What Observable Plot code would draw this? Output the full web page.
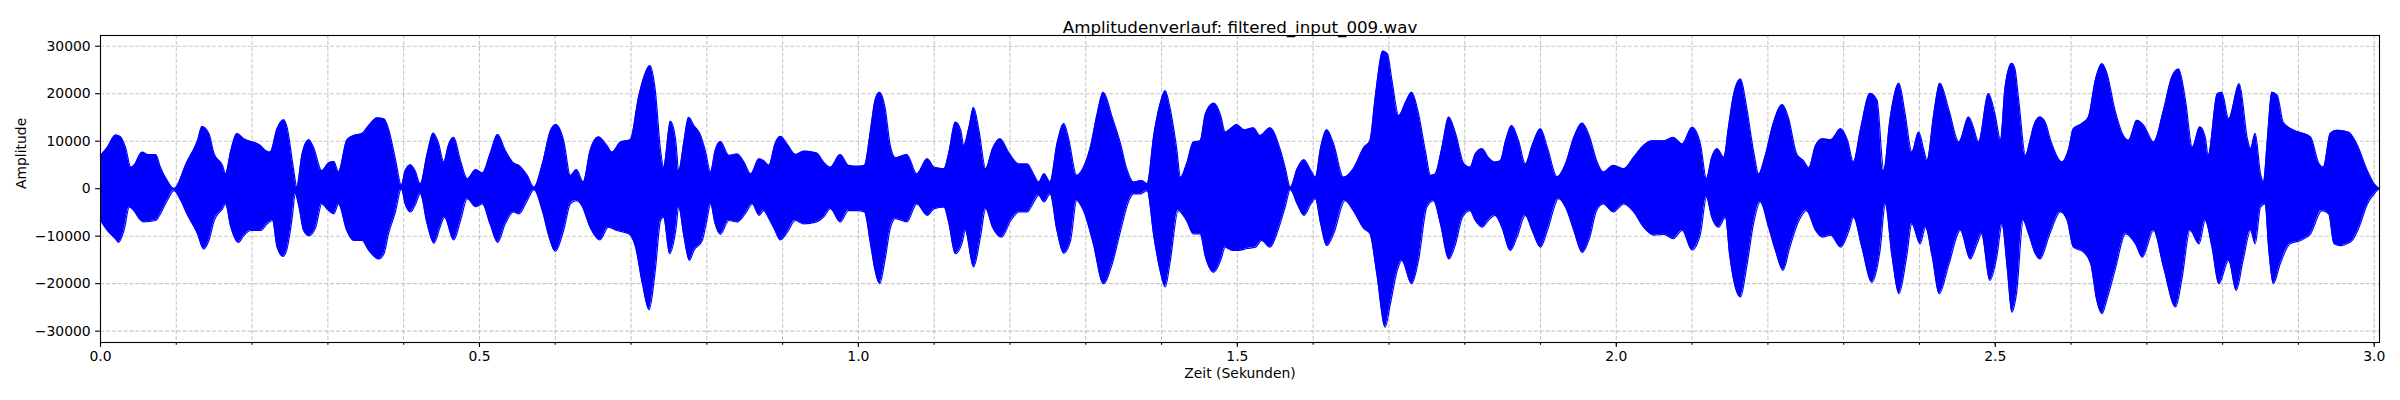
<!DOCTYPE html>
<html>
<head>
<meta charset="utf-8">
<script src="https://cdn.jsdelivr.net/npm/d3@7"></script>
<script src="https://cdn.jsdelivr.net/npm/@observablehq/plot@0.6"></script>
<style>
  html, body { margin: 0; padding: 0; background: white; }
</style>
</head>
<body>
<div id="chart"></div>
<script>
const title = "Amplitudenverlauf: filtered_input_009.wav";
const xLabel = "Zeit (Sekunden)";
const yLabel = "Amplitude";

const xMajorTicks = [0, 0.5, 1.0, 1.5, 2.0, 2.5, 3.0];
const xMinorTicks = [0,0.1,0.2,0.3,0.4,0.5,0.6,0.7,0.8,0.9,1.0,1.1,1.2,1.3,1.4,1.5,1.6,1.7,1.8,1.9,2.0,2.1,2.2,2.3,2.4,2.5,2.6,2.7,2.8,2.9,3.0];
const yTicks = [-30000, -20000, -10000, 0, 10000, 20000, 30000];
const xDomain = [0, 3.007];
const yDomain = [-32390, 32260];

// upper envelope of the waveform (seconds, amplitude)
const upperT = [0.000,0.009,0.020,0.026,0.033,0.040,0.044,0.055,0.062,0.073,0.079,0.088,0.097,0.114,0.128,0.134,0.143,0.150,0.161,0.165,0.172,0.180,0.189,0.211,0.218,0.224,0.233,0.242,0.246,0.255,0.259,0.266,0.275,0.281,0.292,0.301,0.308,0.314,0.325,0.334,0.345,0.354,0.365,0.374,0.380,0.389,0.397,0.402,0.409,0.415,0.422,0.431,0.439,0.446,0.453,0.459,0.466,0.475,0.484,0.495,0.504,0.514,0.524,0.534,0.545,0.552,0.563,0.572,0.583,0.594,0.601,0.611,0.620,0.628,0.637,0.646,0.657,0.668,0.675,0.686,0.699,0.710,0.717,0.725,0.732,0.739,0.743,0.752,0.759,0.763,0.770,0.776,0.783,0.791,0.798,0.805,0.811,0.818,0.829,0.840,0.849,0.858,0.869,0.875,0.882,0.890,0.897,0.906,0.917,0.928,0.945,0.954,0.963,0.976,0.987,0.998,1.008,1.016,1.022,1.028,1.035,1.042,1.049,1.064,1.077,1.091,1.100,1.113,1.119,1.128,1.135,1.139,1.146,1.152,1.159,1.168,1.177,1.187,1.198,1.212,1.223,1.231,1.238,1.245,1.253,1.262,1.271,1.277,1.288,1.299,1.306,1.315,1.323,1.335,1.346,1.354,1.363,1.374,1.381,1.390,1.398,1.405,1.411,1.420,1.425,1.433,1.442,1.451,1.458,1.469,1.478,1.484,1.491,1.499,1.509,1.521,1.530,1.543,1.557,1.563,1.570,1.579,1.588,1.597,1.603,1.610,1.618,1.627,1.640,1.653,1.667,1.675,1.682,1.692,1.698,1.704,1.713,1.722,1.730,1.739,1.748,1.755,1.761,1.770,1.779,1.788,1.799,1.807,1.814,1.823,1.831,1.840,1.847,1.854,1.862,1.871,1.880,1.889,1.900,1.909,1.922,1.933,1.944,1.955,1.965,1.974,1.983,1.996,2.010,2.023,2.036,2.047,2.063,2.075,2.087,2.100,2.111,2.119,2.126,2.133,2.142,2.148,2.155,2.164,2.172,2.181,2.188,2.196,2.207,2.219,2.227,2.238,2.247,2.254,2.263,2.272,2.283,2.296,2.305,2.313,2.322,2.335,2.344,2.353,2.361,2.373,2.381,2.390,2.399,2.406,2.410,2.419,2.427,2.439,2.452,2.465,2.471,2.478,2.491,2.500,2.507,2.513,2.522,2.526,2.531,2.540,2.546,2.551,2.559,2.566,2.573,2.588,2.597,2.603,2.614,2.623,2.632,2.641,2.647,2.658,2.669,2.676,2.687,2.696,2.709,2.722,2.733,2.742,2.751,2.760,2.770,2.777,2.781,2.793,2.799,2.808,2.822,2.833,2.837,2.843,2.850,2.854,2.859,2.865,2.872,2.880,2.894,2.907,2.916,2.927,2.933,2.942,2.951,2.966,2.977,2.991,3.000,3.006];
const upperV = [7000,8700,11300,11000,8700,4500,4900,7700,7200,7200,4500,1700,0,5600,10100,13100,11600,7300,4900,3100,8000,11600,10500,9100,8000,7700,12600,14500,13000,3800,300,7300,10300,8700,3800,5400,5700,3500,10200,11200,11600,13300,14900,14700,12600,6300,700,3800,5000,3800,1000,7300,11700,9500,5600,9100,10800,5900,2100,4000,3300,7300,11400,8100,5400,4900,2800,300,5200,12300,13500,10200,2800,4000,1400,8000,10900,9100,7700,9800,10300,19300,23500,25900,20700,8000,4500,14200,10100,3800,10100,15000,13300,11500,8000,3500,8000,9900,7000,7300,5600,3100,6300,5900,4900,9400,11000,9400,7200,7900,7500,5600,4500,7200,4900,4700,4900,12300,18600,20300,17200,9100,6500,7200,3100,6300,4500,4200,7300,14000,12300,9100,13000,17100,12300,4200,8400,10500,7700,5200,5200,3100,1400,3100,1400,9400,13700,10800,2800,5200,8700,15700,20300,15000,9400,4200,1400,1700,1000,11500,17800,20600,17100,8400,2400,5200,9800,10100,15800,18000,15400,11900,12600,13500,12400,12800,11200,12800,8000,4500,300,4200,6100,3800,2400,8700,12400,9400,2400,4200,8700,10100,19300,29000,28400,22800,15400,18200,20300,15800,8000,2800,3100,8700,15100,11600,5200,4500,7300,8400,6600,5600,5900,10100,13300,10100,5200,9100,12600,8700,2500,5200,10800,13800,10800,5900,3500,4900,4200,6600,9100,10100,10100,10800,9400,12900,9400,2100,6600,8400,6600,12900,20000,23100,17100,8000,3100,6600,13700,17700,15000,7300,5900,4400,9100,10500,10300,12600,10200,5600,12300,20100,18600,3800,14400,22200,15800,7700,11900,8000,5900,15800,22200,16500,9800,15100,13000,9800,20000,15400,10200,21400,26400,25200,18600,7000,10200,13300,15100,14000,10200,5600,8400,12600,13700,15100,22800,26300,24500,16500,11200,10200,14400,13300,9800,16500,23500,25200,18600,8700,13000,10900,7000,20000,20300,14700,22100,10200,8400,11600,3100,1400,10200,20300,19700,14000,12300,11600,10900,5300,4500,11600,12300,11900,9400,3800,1000,100];

// lower envelope of the waveform (seconds, amplitude)
const lowerT = [0.000,0.009,0.020,0.024,0.031,0.038,0.044,0.051,0.057,0.073,0.079,0.088,0.097,0.106,0.114,0.128,0.136,0.143,0.150,0.161,0.165,0.172,0.182,0.189,0.198,0.211,0.220,0.227,0.233,0.241,0.246,0.253,0.257,0.262,0.268,0.275,0.284,0.292,0.301,0.308,0.314,0.325,0.334,0.345,0.354,0.367,0.374,0.380,0.389,0.397,0.402,0.409,0.415,0.422,0.431,0.440,0.448,0.454,0.466,0.475,0.484,0.495,0.504,0.514,0.524,0.534,0.545,0.552,0.563,0.572,0.583,0.592,0.600,0.611,0.620,0.628,0.635,0.646,0.659,0.670,0.681,0.697,0.706,0.715,0.724,0.732,0.739,0.743,0.751,0.759,0.763,0.770,0.777,0.783,0.794,0.800,0.805,0.811,0.818,0.829,0.840,0.851,0.860,0.869,0.875,0.882,0.890,0.897,0.906,0.917,0.928,0.945,0.954,0.963,0.976,0.987,0.998,1.008,1.016,1.022,1.028,1.035,1.042,1.049,1.064,1.077,1.091,1.100,1.113,1.119,1.128,1.137,1.141,1.152,1.161,1.168,1.177,1.189,1.201,1.212,1.223,1.229,1.238,1.245,1.253,1.262,1.271,1.280,1.288,1.297,1.310,1.323,1.335,1.346,1.357,1.363,1.372,1.381,1.390,1.398,1.405,1.411,1.422,1.433,1.442,1.451,1.458,1.469,1.478,1.484,1.493,1.502,1.513,1.524,1.532,1.543,1.555,1.563,1.570,1.579,1.588,1.597,1.603,1.610,1.618,1.627,1.642,1.653,1.667,1.675,1.684,1.695,1.702,1.711,1.717,1.730,1.739,1.750,1.759,1.768,1.779,1.788,1.797,1.807,1.814,1.823,1.831,1.840,1.849,1.860,1.869,1.880,1.889,1.900,1.909,1.924,1.935,1.944,1.955,1.965,1.974,1.983,1.996,2.010,2.023,2.036,2.050,2.063,2.075,2.087,2.100,2.111,2.119,2.126,2.135,2.144,2.150,2.157,2.164,2.172,2.181,2.190,2.201,2.210,2.220,2.229,2.241,2.251,2.263,2.272,2.283,2.296,2.307,2.313,2.324,2.337,2.348,2.355,2.364,2.373,2.383,2.390,2.401,2.408,2.417,2.426,2.439,2.454,2.467,2.476,2.482,2.493,2.502,2.509,2.516,2.522,2.528,2.537,2.544,2.553,2.559,2.572,2.586,2.595,2.603,2.617,2.626,2.634,2.641,2.647,2.658,2.672,2.685,2.694,2.709,2.722,2.738,2.746,2.757,2.769,2.777,2.786,2.795,2.808,2.818,2.827,2.837,2.843,2.850,2.856,2.861,2.867,2.876,2.889,2.903,2.916,2.931,2.940,2.947,2.956,2.964,2.971,2.980,2.991,3.000,3.006];
const lowerV = [-6700,-8800,-10600,-11300,-8800,-3900,-4600,-6300,-7000,-6700,-5300,-2500,-400,-2500,-5300,-9500,-12700,-10900,-6700,-4200,-3200,-8100,-11300,-9900,-8800,-8800,-7400,-6700,-12300,-14300,-12700,-6000,-1100,-3900,-8800,-9900,-8100,-3200,-4600,-5300,-3200,-8800,-10900,-10900,-13000,-14800,-13700,-9500,-5000,0,-3200,-4900,-3500,-1100,-7400,-11500,-8100,-6000,-10800,-6700,-2100,-3800,-3200,-7400,-11300,-7400,-4900,-5300,-2500,-200,-4600,-10200,-13200,-8800,-3200,-2500,-3500,-8100,-10800,-8100,-8800,-9500,-12300,-20000,-25500,-17200,-6700,-6000,-13700,-8800,-3900,-10200,-15100,-13000,-10900,-6700,-3200,-7400,-9600,-6700,-7000,-5200,-3200,-5600,-4600,-6300,-8800,-10800,-9200,-6700,-7400,-7000,-6000,-4200,-7000,-4600,-4600,-4900,-11600,-17200,-20000,-15100,-8400,-6300,-7000,-3200,-5600,-4200,-3900,-7000,-13700,-11300,-8800,-16500,-10200,-4200,-8100,-10200,-6700,-4900,-4900,-3500,-1400,-2800,-1100,-8800,-13600,-10900,-2500,-4600,-11600,-20000,-15800,-8800,-2500,-1100,-1100,-400,-10200,-17200,-20700,-15800,-4600,-6700,-9500,-9500,-14400,-17600,-15100,-12300,-13000,-13000,-12600,-12300,-10900,-12300,-8100,-3900,-200,-3200,-5600,-3200,-2100,-7400,-12000,-9500,-2500,-4600,-8400,-9500,-17900,-29200,-24200,-17200,-15100,-20000,-15100,-3900,-2500,-7400,-14800,-11600,-6000,-4600,-6700,-8100,-6700,-5600,-8100,-13000,-10200,-5600,-8800,-12300,-8800,-2100,-4600,-8800,-13400,-10200,-4600,-3200,-4900,-3200,-4900,-8100,-9800,-9600,-10500,-8800,-12900,-9500,-1800,-6000,-8100,-6000,-14400,-20700,-22800,-16500,-7400,-2800,-8100,-13000,-17200,-12300,-6700,-4600,-8800,-10200,-9800,-12300,-8800,-6000,-12300,-19700,-13000,-3200,-14400,-22100,-14400,-7400,-11600,-8100,-14400,-22100,-15800,-8800,-14800,-11600,-9500,-19300,-14400,-7500,-17000,-26000,-22100,-6700,-9500,-13700,-14800,-9500,-4900,-6700,-12300,-13400,-15800,-23500,-26300,-23500,-17200,-9500,-11600,-14400,-8800,-16500,-24900,-19300,-8800,-11600,-6700,-12300,-20000,-15100,-21400,-15100,-8800,-11600,-3900,-3200,-13000,-20000,-15800,-11600,-10900,-9500,-4600,-5300,-11600,-12000,-11600,-10900,-8100,-3200,-1100,0];

const upper = upperT.map((t, i) => ({t, v: upperV[i]}));
const lower = lowerT.map((t, i) => ({t, v: lowerV[i]}));

const gridStyle = {stroke: "#b0b0b0", strokeOpacity: 0.7, strokeWidth: 1.1, strokeDasharray: "4.1,1.8"};
const wave = "#0000ff";
const curve = "monotone-x";

const chart = Plot.plot({
  width: 2400,
  height: 400,
  marginLeft: 100,
  marginRight: 21,
  marginTop: 35,
  marginBottom: 58,
  style: {fontFamily: "'DejaVu Sans', sans-serif", fontSize: "13.9px", background: "white", color: "black"},
  x: {domain: xDomain, label: null},
  y: {domain: yDomain, label: null},
  marks: [
    Plot.gridX(xMinorTicks, gridStyle),
    Plot.gridY(yTicks, gridStyle),
    Plot.areaY(upper, {x: "t", y1: 0, y2: "v", fill: wave, curve}),
    Plot.areaY(lower, {x: "t", y1: 0, y2: "v", fill: wave, curve}),
    Plot.lineY(upper, {x: "t", y: "v", stroke: wave, strokeWidth: 1.2, curve}),
    Plot.lineY(lower, {x: "t", y: "v", stroke: wave, strokeWidth: 1.2, curve}),
    Plot.ruleY([0], {x1: xDomain[0], x2: xDomain[1], stroke: wave, strokeWidth: 2}),
    Plot.frame({stroke: "black", strokeWidth: 1.1}),
    Plot.axisX(xMinorTicks, {tickSize: 2.8, strokeWidth: 1.1, tickFormat: () => null, label: null}),
    Plot.axisX(xMajorTicks, {tickSize: 4.9, tickPadding: 4.2, strokeWidth: 1.1, tickFormat: d3.format(".1f"), label: null, fontSize: 13.9}),
    Plot.axisY(yTicks, {tickSize: 4.9, tickPadding: 4.9, strokeWidth: 1.1, tickFormat: d3.format("d"), label: null, fontSize: 13.9}),
    Plot.text([title], {frameAnchor: "top", dy: -14, fontSize: 16.7, fill: "black"}),
    Plot.text([xLabel], {frameAnchor: "bottom", dy: 35, fontSize: 13.9, fill: "black"}),
    Plot.text([yLabel], {frameAnchor: "left", dx: -79, rotate: -90, fontSize: 13.9, fill: "black"})
  ]
});
document.getElementById("chart").appendChild(chart);
</script>
</body>
</html>
